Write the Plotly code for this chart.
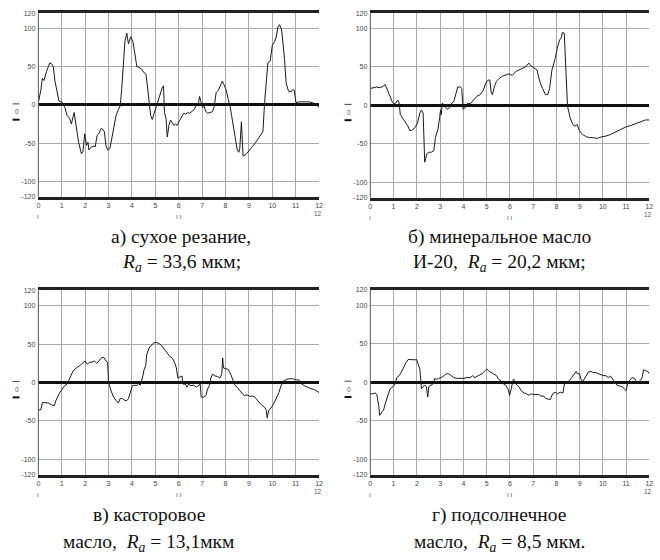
import plotly.graph_objects as go

W, H = 660, 560

# Profile (a): dry cutting
xa = [0, 0.11, 0.17, 0.24, 0.35, 0.49, 0.56, 0.64, 0.71, 0.82, 0.88, 0.96, 1.0, 1.13, 1.23, 1.34, 1.41,
      1.53, 1.62, 1.72, 1.84, 1.91, 1.98, 2.06, 2.12, 2.16, 2.26, 2.37, 2.43, 2.51, 2.58, 2.68, 2.75,
      2.82, 2.89, 2.96, 3.06, 3.13, 3.22, 3.32, 3.42, 3.50, 3.56, 3.64, 3.70, 3.78, 3.85, 3.95, 4.04,
      4.12, 4.21, 4.31, 4.41, 4.52, 4.60, 4.66, 4.74, 4.80, 4.87, 4.94, 5.04, 5.11, 5.20, 5.29, 5.35,
      5.39, 5.46, 5.51, 5.58, 5.65, 5.72, 5.79, 5.86, 5.93, 6.03, 6.14, 6.21, 6.30, 6.38, 6.47, 6.56,
      6.66, 6.78, 6.85, 6.89, 6.95, 7.02, 7.09, 7.16, 7.23, 7.34, 7.44, 7.51, 7.60, 7.69, 7.76, 7.86,
      7.93, 8.02, 8.12, 8.19, 8.26, 8.33, 8.43, 8.50, 8.57, 8.61, 8.68, 8.75, 8.87, 8.96, 9.11, 9.29,
      9.46, 9.60, 9.67, 9.74, 9.81, 9.91, 10.0, 10.1, 10.17, 10.24, 10.31, 10.4, 10.52, 10.59, 10.69,
      10.80, 10.87, 10.94, 11.01, 11.15, 11.36, 11.58, 11.79, 11.93, 12.0]
ya = [3, 20, 35, 32, 44, 55, 54, 50, 31, 12, 5, 4, 4, -3, -14, -18, -25,
      -10, -29, -49, -64, -61, -38, -53, -49, -59, -55, -54, -55, -40, -38, -31, -32,
      -35, -53, -59, -57, -46, -31, -14, -6, -1, 20, 63, 83, 94, 80, 89, 83,
      68, 50, 49, 47, 42, 40, 25, -1, -14, -19, -12, -3, 3, 14, 22, 25,
      -10, -18, -42, -27, -20, -23, -27, -25, -27, -21, -14, -11, -12, -10, -11, -8,
      -6, 1, 3, 11, 3, -3, -2, -9, -11, -10, -9, -3, 16, 19, 25, 31,
      27, 20, 7, -1, -14, -29, -49, -59, -62, -57, -22, -67, -65, -62, -56, -49,
      -42, -35, 3, 29, 55, 57, 78, 83, 89, 102, 105, 98, 61, 29, 18,
      17, 20, 19, 3, 4, 4, 4, 2, -1, -3]

# Profile (b): mineral oil I-20
xb = [0, 0.14, 0.28, 0.38, 0.50, 0.64, 0.75, 0.85, 0.95, 1.02, 1.09, 1.18, 1.24, 1.29, 1.42, 1.52,
      1.60, 1.70, 1.80, 1.92, 2.03, 2.13, 2.20, 2.27, 2.34, 2.43, 2.53, 2.63, 2.73, 2.80, 2.91, 2.98,
      3.02, 3.05, 3.10, 3.20, 3.31, 3.41, 3.51, 3.59, 3.69, 3.76, 3.88, 3.93, 3.99, 4.08, 4.19, 4.30,
      4.44, 4.59, 4.73, 4.86, 4.97, 5.07, 5.14, 5.20, 5.25, 5.33, 5.42, 5.54, 5.68, 5.82, 5.96, 6.11,
      6.25, 6.39, 6.53, 6.67, 6.82, 6.92, 7.03, 7.17, 7.24, 7.31, 7.41, 7.53, 7.63, 7.71, 7.81, 7.95,
      8.05, 8.14, 8.21, 8.26, 8.34, 8.38, 8.42, 8.48, 8.59, 8.71, 8.80, 8.90, 8.99, 9.13, 9.30, 9.44,
      9.59, 9.76, 9.94, 10.13, 10.32, 10.51, 10.69, 10.86, 11.0, 11.22, 11.43, 11.65, 11.83, 12.0]
yb = [22, 23.5, 24, 23, 24, 27, 20, 11.5, 4, 2, 3, 7, 3, -12, -18, -23,
      -26, -33, -32, -29, -23, -10, -6, -10, -74, -63, -61, -61, -59, -42, -31, -16,
      -6, -12, 3, -1, -5, -3, 3, 5, 16, 24, 24, 22, -5, -3, 3, 2,
      7, 12, 14, 20, 29, 33, 33, 16, 14, 24, 31, 35, 38, 39, 41, 39,
      44, 46, 48, 50, 55, 51, 49, 46, 37, 29, 22, 14, 14, 22, 46, 61,
      76, 85, 88, 95, 94, 67, 24, -1, -16, -25, -27, -25, -33, -38, -41, -42,
      -42, -43, -41, -40, -38, -35, -32, -30, -28, -26, -23.5, -20.5, -19, -19]

# Profile (c): castor oil
xc = [0, 0.11, 0.17, 0.28, 0.42, 0.56, 0.68, 0.75, 0.88, 1.02, 1.13, 1.23, 1.34, 1.48, 1.62, 1.77,
      1.91, 2.0, 2.09, 2.19, 2.29, 2.40, 2.50, 2.61, 2.72, 2.82, 2.89, 2.96, 3.0, 3.11, 3.22, 3.32,
      3.42, 3.50, 3.60, 3.70, 3.78, 3.85, 3.92, 4.02, 4.12, 4.21, 4.29, 4.35, 4.45, 4.52, 4.59, 4.63,
      4.73, 4.83, 4.94, 5.05, 5.15, 5.27, 5.39, 5.51, 5.62, 5.72, 5.82, 5.90, 5.96, 6.04, 6.14, 6.18,
      6.28, 6.35, 6.42, 6.52, 6.64, 6.75, 6.85, 6.92, 6.96, 7.06, 7.16, 7.23, 7.31, 7.37, 7.45, 7.55,
      7.65, 7.76, 7.84, 7.88, 7.91, 8.02, 8.12, 8.22, 8.33, 8.40, 8.50, 8.61, 8.73, 8.82, 8.92, 9.04,
      9.15, 9.25, 9.35, 9.46, 9.57, 9.67, 9.74, 9.78, 9.85, 9.95, 10.05, 10.16, 10.28, 10.38, 10.48,
      10.59, 10.73, 10.87, 11.01, 11.13, 11.22, 11.36, 11.5, 11.65, 11.79, 11.93, 12.0]
yc = [-36, -35, -26, -26, -26.5, -29, -30, -23.5, -15, -8.5, -4, -2, 6, 15, 19, 22,
      26, 28, 24, 26.5, 26.5, 28, 25, 29, 33, 32, 28, 26.5, 0, -11, -19, -23.5,
      -26.5, -20.5, -21, -23.5, -23.5, -21, -13, -4, -3.5, -4, -1, -3.5, 6, 17, 22, 36,
      45, 49, 52, 52, 51, 48, 43, 38, 34, 32, 26.5, 19, 6, 7, 8.5, -2,
      -2, -6, -2, -4, -3.5, -6, -3.5, -2, -19, -19, -17, -8.5, -4, 6, 11, 8.5,
      8, 6, 11, 32, 19, 18, 17, 11, 2, -3.5, -6, -11, -15, -17, -16, -18,
      -17.5, -19, -22, -26.5, -30, -32, -36, -46, -36, -33, -28, -21, -13, -3.5, 2,
      4, 5, 5, 3.5, 3.5, -1, -4, -6, -8, -9, -12, -13]

# Profile (d): sunflower oil
xd = [0, 0.10, 0.21, 0.28, 0.36, 0.40, 0.50, 0.57, 0.64, 0.75, 0.85, 0.97, 1.07, 1.14, 1.24, 1.35,
      1.45, 1.53, 1.63, 1.73, 1.82, 1.92, 1.99, 2.06, 2.13, 2.20, 2.27, 2.34, 2.41, 2.47, 2.51, 2.60,
      2.70, 2.77, 2.84, 2.94, 3.05, 3.17, 3.27, 3.37, 3.48, 3.59, 3.73, 3.88, 4.02, 4.16, 4.30, 4.40,
      4.50, 4.62, 4.73, 4.83, 4.93, 5.01, 5.11, 5.21, 5.33, 5.43, 5.51, 5.61, 5.72, 5.82, 5.92, 5.99,
      6.06, 6.15, 6.22, 6.29, 6.39, 6.49, 6.61, 6.72, 6.82, 6.92, 7.03, 7.14, 7.24, 7.34, 7.46, 7.53,
      7.63, 7.74, 7.84, 7.95, 8.05, 8.17, 8.28, 8.35, 8.45, 8.56, 8.66, 8.76, 8.85, 8.90, 8.99, 9.06,
      9.13, 9.20, 9.27, 9.37, 9.47, 9.59, 9.70, 9.80, 9.90, 10.01, 10.13, 10.23, 10.33, 10.41, 10.51,
      10.61, 10.72, 10.84, 10.93, 11.0, 11.08, 11.18, 11.26, 11.36, 11.46, 11.55, 11.60, 11.69, 11.75,
      11.83, 11.93, 12.0]
yd = [-15, -15, -14, -16, -30, -43, -38.5, -36, -28, -19, -8.5, -6, -2, 6, 8.5, 14,
      21, 25, 29.5, 29, 29.5, 29, 29.5, 23.5, 17, -8.5, -6, -3.5, -6, -19, -6, -4,
      -2, 5, 3.5, 5, 6, 8.5, 11, 11, 8.5, 6, 5, 5, 5, 6, 6, 8.5,
      6, 8, 9.5, 11.5, 15, 17, 14, 12.5, 11, 8.5, 4, 2, -2, -4, -8.5, -17,
      -8.5, 4, 2, -3.5, -6, -11, -14, -15, -17, -15, -16, -16, -16, -18, -18, -21,
      -22, -22.5, -15, -13, -15, -13, -14, -2, 0, 2, 6, 9.5, 14, 11, 11, 4,
      1, 4, 8.5, 13, 14, 12.5, 12.5, 11, 9.5, 8.5, 8.5, 6, 8, 5, 1,
      -4, -5, -6, -9, -11, 0, 3.5, 6, 5, 0, -2, 2, 6, 16,
      15, 14, 11]

x_ticks = list(range(0, 13))
y_ticks = [-120, -100, -50, 0, 50, 100, 120]
y_tick_text = ["-120", "-100", "-50", "0", "50", "100", "120"]

captions = [
    ["а) сухое резание,", "<i>R</i><sub><i>a</i></sub> = 33,6 мкм;"],
    ["б) минеральное масло", "И-20,  <i>R</i><sub><i>a</i></sub> = 20,2 мкм;"],
    ["в) касторовое", "масло,  <i>R</i><sub><i>a</i></sub> = 13,1мкм"],
    ["г) подсолнечное", "масло,  <i>R</i><sub><i>a</i></sub> = 8,5 мкм."],
]

# panel boxes in pixels: left, right, top, bottom
boxes = [
    (36.7, 320.0, 9.3, 195.0),
    (371.7, 653.3, 9.3, 196.0),
    (36.7, 320.0, 290.0, 476.7),
    (371.7, 653.3, 289.3, 476.7),
]
caption_pos = [(181, 236, 262), (502, 236, 262), (148, 517, 546), (502, 517, 546)]

series = [(xa, ya), (xb, yb), (xc, yc), (xd, yd)]


def px(x):
    return x / W


def py(y):
    return 1 - y / H


def label(x, y, text, font):
    return dict(x=px(x), y=py(y), xref="paper", yref="paper", text=text,
                showarrow=False, font=font, xanchor="center", yanchor="middle")


fig = go.Figure()
layout = dict(
    width=W, height=H, margin=dict(l=0, r=0, t=0, b=0),
    paper_bgcolor="white", plot_bgcolor="white", showlegend=False,
    annotations=[], shapes=[],
)

tick_font = dict(family="Liberation Sans", size=7, color="#444")
mark_font = dict(family="Liberation Sans", size=6.5, color="#555")
cap_font = dict(family="Liberation Serif", size=19.5, color="#111")

for i, ((xs, ys), (l, r, t, b)) in enumerate(zip(series, boxes)):
    n = "" if i == 0 else str(i + 1)
    fig.add_trace(go.Scatter(x=xs, y=ys, mode="lines", xaxis="x" + n, yaxis="y" + n,
                             line=dict(color="#1a1a1a", width=1), hoverinfo="skip"))
    layout["xaxis" + n] = dict(
        domain=[px(l), px(r)], anchor="y" + n, range=[0, 12],
        tickvals=x_ticks, ticktext=[str(v) for v in x_ticks], tickfont=tick_font,
        showgrid=True, gridcolor="#a9a9a9", gridwidth=1, zeroline=False,
        showline=True, linecolor="#222", linewidth=2.5, mirror=True,
        ticks="", ticklen=0, ticklabelstandoff=0, layer="below traces",
    )
    layout["yaxis" + n] = dict(
        domain=[py(b), py(t)], anchor="x" + n, range=[-120, 120],
        tickvals=y_ticks, ticktext=y_tick_text, tickfont=tick_font,
        showgrid=True, gridcolor="#a9a9a9", gridwidth=1,
        zeroline=True, zerolinecolor="#111", zerolinewidth=2.5,
        showline=False, ticks="", ticklen=0, ticklabelstandoff=2,
    )
    # left frame edge
    layout["shapes"].append(dict(type="line", xref="paper", yref="paper",
                                 x0=px(l), x1=px(l), y0=py(b), y1=py(t),
                                 line=dict(color="#555", width=1)))
    # axis marker labels below the scale
    mid = (l + r) / 2
    for xx, yy, txt in [(l, b + 20, "ı"), (mid, b + 20, "ı ı"), (r - 1, b + 17, "12")]:
        layout["annotations"].append(label(xx, yy, txt, mark_font))
    # y-axis marker
    y0 = (t + b) / 2
    layout["annotations"].append(label(l - 22, y0 + 7, "0", mark_font))
    layout["shapes"].append(dict(type="line", xref="paper", yref="paper",
                                 x0=px(l - 26), x1=px(l - 19), y0=py(y0 - 1), y1=py(y0 - 1),
                                 line=dict(color="#444", width=1)))
    layout["shapes"].append(dict(type="line", xref="paper", yref="paper",
                                 x0=px(l - 26), x1=px(l - 19), y0=py(y0 + 15), y1=py(y0 + 15),
                                 line=dict(color="#111", width=2)))
    # caption
    cx, cy1, cy2 = caption_pos[i]
    for txt, cy in zip(captions[i], (cy1, cy2)):
        layout["annotations"].append(label(cx, cy, txt, cap_font))

fig.update_layout(**layout)
fig.write_html("out.html")
